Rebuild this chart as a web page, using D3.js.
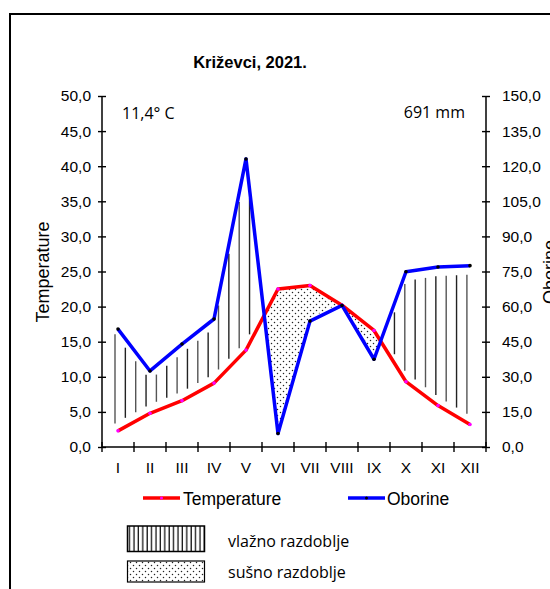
<!DOCTYPE html>
<html><head><meta charset="utf-8">
<script src="https://cdn.jsdelivr.net/npm/d3@7"></script>
<style>body{margin:0;background:#fff}</style>
</head><body>
<svg id="c" width="550" height="589" xmlns="http://www.w3.org/2000/svg"></svg>
<script>
const months = ["I","II","III","IV","V","VI","VII","VIII","IX","X","XI","XII"];
const temperature = [2.3, 4.8, 6.6, 9.1, 13.8, 22.5, 23.0, 20.2, 16.6, 9.3, 5.9, 3.2];
const precipitation = [50.4, 32.5, 44.0, 54.7, 123.1, 5.8, 53.8, 60.5, 37.5, 74.9, 76.9, 77.5];
const tempTicks = [0, 5, 10, 15, 20, 25, 30, 35, 40, 45, 50];
const precTicks = [0, 15, 30, 45, 60, 75, 90, 105, 120, 135, 150];
const title = "Križevci, 2021.";
const meanTempLabel = "11,4° C";
const totalPrecLabel = "691 mm";

const svg = d3.select("#c");
const AR = "'Liberation Sans', Arial, sans-serif";
const CAL = "'Open Sans', 'Noto Sans', sans-serif";

const x = d3.scaleBand().domain(months).range([102, 486]);
const cx = m => x(m) + x.bandwidth() / 2;
const yT = d3.scaleLinear().domain([0, 50]).range([447, 96]);
const yP = d3.scaleLinear().domain([0, 150]).range([447, 96]);
const fmt = v => d3.format(".1f")(v).replace(".", ",");

const defs = svg.append("defs");
const dots = defs.append("pattern").attr("id", "dots").attr("patternUnits", "userSpaceOnUse")
  .attr("width", 6).attr("height", 6);
dots.append("circle").attr("cx", 1.5).attr("cy", 1.5).attr("r", 0.75).attr("fill", "#222");
dots.append("circle").attr("cx", 4.5).attr("cy", 4.5).attr("r", 0.75).attr("fill", "#222");
const vl = defs.append("pattern").attr("id", "vlines").attr("patternUnits", "userSpaceOnUse")
  .attr("width", 4.4).attr("height", 10);
vl.append("line").attr("x1", 2).attr("x2", 2).attr("y1", 0).attr("y2", 10).attr("stroke", "#111").attr("stroke-width", 1.3);

// outer frame
svg.append("rect").attr("x", 10).attr("y", 14).attr("width", 580).attr("height", 600)
  .attr("fill", "none").attr("stroke", "#000").attr("stroke-width", 2);

// title
svg.append("text").attr("x", 250).attr("y", 68).attr("text-anchor", "middle")
  .attr("font-family", AR).attr("font-weight", "bold").attr("font-size", 16.5).text(title);

// interpolation helper in pixel space
const step = x.bandwidth();
const x0 = cx(months[0]);
function interp(vals, ys, px) {
  let i = Math.floor((px - x0) / step);
  i = Math.max(0, Math.min(vals.length - 2, i));
  const t = (px - (x0 + i * step)) / step;
  return ys(vals[i]) + t * (ys(vals[i + 1]) - ys(vals[i]));
}

// crossing points of the two curves (pixel x)
const crossings = [];
for (let i = 0; i < months.length - 1; i++) {
  const d1 = yT(temperature[i]) - yP(precipitation[i]);
  const d2 = yT(temperature[i + 1]) - yP(precipitation[i + 1]);
  if (d1 * d2 < 0) crossings.push(cx(months[i]) + step * d1 / (d1 - d2));
}

// humid hatching (vertical lines)
const inset = 9;
const hx = d3.range(x0 - 3, cx(months[11]) + 1, 10.35);
const hatch = [];
hx.forEach((px, k) => {
  const tY = interp(temperature, yT, px), pY = interp(precipitation, yP, px);
  const nearCross = crossings.some(c => Math.abs(c - px) < 10);
  if (!nearCross && tY - pY > 2 * inset + 8) hatch.push({px, y1: pY + inset, y2: tY - inset, k});
});
svg.append("g").selectAll("line").data(hatch).join("line")
  .attr("x1", d => d.px).attr("x2", d => d.px).attr("y1", d => d.y1).attr("y2", d => d.y2)
  .attr("stroke", d => d.k % 2 ? "#222" : "#555").attr("stroke-width", 1.4);

// dry stipple
const pts = months.map((m, i) => ({m, t: temperature[i], p: precipitation[i]}));
defs.append("clipPath").attr("id", "abovePrec").append("path")
  .attr("d", d3.area().x(d => cx(d.m)).y0(0).y1(d => yP(d.p) - 3)(pts));
svg.append("path")
  .attr("d", d3.area().x(d => cx(d.m)).y0(d => yT(d.t)).y1(d => yP(d.p))(pts))
  .attr("fill", "url(#dots)").attr("clip-path", "url(#abovePrec)");

// axes
const la = svg.append("g").attr("transform", "translate(102,0)")
  .call(d3.axisLeft(yT).tickValues(tempTicks).tickFormat(fmt).tickSize(4).tickPadding(7));
la.selectAll(".tick line").attr("x1", 4);
const ra = svg.append("g").attr("transform", "translate(486,0)")
  .call(d3.axisRight(yP).tickValues(precTicks).tickFormat(fmt).tickSize(4).tickPadding(12));
ra.selectAll(".tick line").attr("x1", -4);
[la, ra].forEach(g => {
  g.select(".domain").remove();
  g.selectAll("line").attr("stroke", "#000").attr("stroke-width", 1.4);
  g.selectAll("text").attr("font-family", AR).attr("font-size", 15.5).attr("fill", "#000");
});
svg.append("line").attr("x1", 102).attr("x2", 102).attr("y1", 96).attr("y2", 447).attr("stroke", "#000").attr("stroke-width", 1.5);
svg.append("line").attr("x1", 486).attr("x2", 486).attr("y1", 96).attr("y2", 447).attr("stroke", "#000").attr("stroke-width", 1.5);
svg.append("line").attr("x1", 102).attr("x2", 486).attr("y1", 447).attr("y2", 447).attr("stroke", "#000").attr("stroke-width", 1.5);
const bounds = months.map(m => x(m)).concat([x(months[11]) + step]);
svg.append("g").selectAll("line").data(bounds).join("line")
  .attr("x1", d => d).attr("x2", d => d).attr("y1", 442).attr("y2", 452)
  .attr("stroke", "#000").attr("stroke-width", 1.4);
svg.append("g").selectAll("text").data(months).join("text")
  .attr("x", d => cx(d)).attr("y", 473).attr("text-anchor", "middle")
  .attr("font-family", AR).attr("font-size", 15.5).text(d => d);

// axis titles
svg.append("text").attr("transform", "translate(49,272) rotate(-90)").attr("text-anchor", "middle")
  .attr("font-family", AR).attr("font-size", 18).text("Temperature");
svg.append("text").attr("transform", "translate(556,272) rotate(-90)").attr("text-anchor", "middle")
  .attr("font-family", AR).attr("font-size", 18).text("Oborine");

// annotations
svg.append("text").attr("x", 122).attr("y", 119).attr("font-family", CAL).attr("font-size", 16).text(meanTempLabel);
svg.append("text").attr("x", 465).attr("y", 118).attr("text-anchor", "end").attr("font-family", CAL).attr("font-size", 16).text(totalPrecLabel);

// lines
const lineT = d3.line().x(d => cx(d.m)).y(d => yT(d.t));
const lineP = d3.line().x(d => cx(d.m)).y(d => yP(d.p));
svg.append("path").attr("d", lineT(pts)).attr("fill", "none").attr("stroke", "#ff0000").attr("stroke-width", 3.5).attr("stroke-linejoin", "round");
svg.append("g").selectAll("circle").data(pts).join("circle")
  .attr("cx", d => cx(d.m)).attr("cy", d => yT(d.t)).attr("r", 1.8).attr("fill", "#ff00ff");
svg.append("path").attr("d", lineP(pts)).attr("fill", "none").attr("stroke", "#0000ff").attr("stroke-width", 3.5).attr("stroke-linejoin", "round");
svg.append("g").selectAll("circle").data(pts).join("circle")
  .attr("cx", d => cx(d.m)).attr("cy", d => yP(d.p)).attr("r", 1.8).attr("fill", "#000");

// legend
const leg = [{name: "Temperature", color: "#ff0000", mk: "#ff00ff", x: 143, tx: 183},
             {name: "Oborine", color: "#0000ff", mk: "#000", x: 348, tx: 387}];
leg.forEach(l => {
  svg.append("line").attr("x1", l.x).attr("x2", l.x + 37).attr("y1", 498).attr("y2", 498)
    .attr("stroke", l.color).attr("stroke-width", 3.5);
  svg.append("circle").attr("cx", l.x + 18.5).attr("cy", 498).attr("r", 1.5).attr("fill", l.mk);
  svg.append("text").attr("x", l.tx).attr("y", 505).attr("font-family", AR).attr("font-size", 17.5).text(l.name);
});
svg.append("rect").attr("x", 127.5).attr("y", 526).attr("width", 77).attr("height", 25.5)
  .attr("fill", "url(#vlines)").attr("stroke", "#000").attr("stroke-width", 1.5);
svg.append("rect").attr("x", 127.5).attr("y", 561).attr("width", 77).attr("height", 21)
  .attr("fill", "url(#dots)").attr("stroke", "#000").attr("stroke-width", 1.2);
svg.append("text").attr("x", 228).attr("y", 547).attr("font-family", CAL).attr("font-size", 16).text("vlažno razdoblje");
svg.append("text").attr("x", 228).attr("y", 578).attr("font-family", CAL).attr("font-size", 16).text("sušno razdoblje");
</script>
</body></html>
